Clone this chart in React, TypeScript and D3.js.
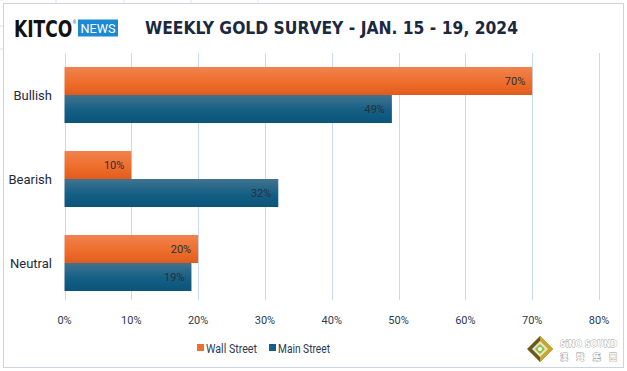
import React, { useEffect, useRef } from 'react';
import * as d3 from 'd3';

const categories = ['Bullish', 'Bearish', 'Neutral'];
const seriesNames = ['Wall Street', 'Main Street'];
const wallStreet = [70, 10, 20];
const mainStreet = [49, 32, 19];
const xTicks = [0, 10, 20, 30, 40, 50, 60, 70, 80];
const title = 'WEEKLY GOLD SURVEY - JAN. 15 - 19, 2024';

const width = 627;
const height = 371;
const plotLeft = 64.5;
const plotRight = 599;
const plotTop = 53;
const plotBottom = 305;
const font = 'Roboto, "Open Sans", sans-serif';

export default function App() {
    const svgRef = useRef<SVGSVGElement>(null);

    useEffect(() => {
        const svg = d3.select(svgRef.current);
        svg.selectAll('*').remove();

        const defs = svg.append('defs');
        const og = defs.append('linearGradient').attr('id', 'gOrange').attr('x1', 0).attr('x2', 0).attr('y1', 0).attr('y2', 1);
        og.append('stop').attr('offset', '0%').attr('stop-color', '#f0834f');
        og.append('stop').attr('offset', '55%').attr('stop-color', '#ee6e2c');
        og.append('stop').attr('offset', '100%').attr('stop-color', '#e15c1c');
        const bg = defs.append('linearGradient').attr('id', 'gBlue').attr('x1', 0).attr('x2', 0).attr('y1', 0).attr('y2', 1);
        bg.append('stop').attr('offset', '0%').attr('stop-color', '#41738f');
        bg.append('stop').attr('offset', '55%').attr('stop-color', '#145f84');
        bg.append('stop').attr('offset', '100%').attr('stop-color', '#0b5479');
        const colors = ['url(#gOrange)', 'url(#gBlue)'];
        const swatch = ['#ee6e2c', '#145f84'];

        svg.append('rect').attr('width', width).attr('height', height).attr('fill', '#fff');
        // faint sheet gridlines outside the chart
        [0, 26, 49].forEach(y => svg.append('line').attr('x1', 0).attr('x2', 3).attr('y1', y).attr('y2', y).attr('stroke', '#dde4ee'));
        [56, 124, 191, 258].forEach(x => svg.append('line').attr('x1', x).attr('x2', x).attr('y1', 0).attr('y2', 3).attr('stroke', '#dde4ee'));
        svg.append('rect').attr('x', 3.5).attr('y', 3.5).attr('width', 620).attr('height', 364)
            .attr('fill', '#fff').attr('stroke', '#c9d5e4');

        const x = d3.scaleLinear().domain([0, 80]).range([plotLeft, plotRight]);
        const y = d3.scaleBand().domain(categories).range([plotTop, plotBottom]).paddingInner(0.333).paddingOuter(0.1665);
        const ySub = d3.scaleBand().domain(seriesNames).range([0, y.bandwidth()]);

        svg.append('g').selectAll('line').data(xTicks).join('line')
            .attr('x1', d => Math.round(x(d)) + 0.5).attr('x2', d => Math.round(x(d)) + 0.5)
            .attr('y1', plotTop).attr('y2', 300)
            .attr('stroke', '#c9daee').attr('stroke-width', 1);

        const rows = categories.map((c, i) => [
            { cat: c, s: seriesNames[0], v: wallStreet[i], k: 0 },
            { cat: c, s: seriesNames[1], v: mainStreet[i], k: 1 },
        ]).flat();

        svg.append('g').selectAll('rect').data(rows).join('rect')
            .attr('x', x(0))
            .attr('y', d => (y(d.cat) as number) + (ySub(d.s) as number))
            .attr('width', d => x(d.v) - x(0))
            .attr('height', ySub.bandwidth())
            .attr('fill', d => colors[d.k]);

        svg.append('g').selectAll('text').data(rows).join('text')
            .attr('x', d => x(d.v) - 7)
            .attr('y', d => (y(d.cat) as number) + (ySub(d.s) as number) + ySub.bandwidth() / 2 + 4)
            .attr('text-anchor', 'end')
            .attr('font-family', font).attr('font-size', 11).attr('fill', '#2b2f36')
            .text(d => `${d.v}%`);

        svg.append('g').selectAll('text').data(categories).join('text')
            .attr('x', 52)
            .attr('y', d => (y(d) as number) + y.bandwidth() / 2 + 4.5)
            .attr('text-anchor', 'end')
            .attr('font-family', font).attr('font-size', 13).attr('fill', '#1e2a3c')
            .text(d => d);

        svg.append('g').selectAll('text').data(xTicks).join('text')
            .attr('x', d => x(d))
            .attr('y', 324)
            .attr('text-anchor', 'middle')
            .attr('font-family', font).attr('font-size', 11).attr('fill', '#2e3a4e')
            .text(d => `${d}%`);

        // legend
        const lg = svg.append('g');
        const legendX = [197, 269];
        const legendLen = [51, 52];
        seriesNames.forEach((s, i) => {
            lg.append('rect').attr('x', legendX[i]).attr('y', 344).attr('width', 7).attr('height', 7).attr('fill', swatch[i]);
            lg.append('text').attr('x', legendX[i] + 9).attr('y', 353)
                .attr('font-family', font).attr('font-size', 13.5).attr('fill', '#2e3a4e')
                .attr('textLength', legendLen[i]).attr('lengthAdjust', 'spacingAndGlyphs')
                .text(s);
        });

        // title
        svg.append('text').attr('x', 145).attr('y', 34)
            .attr('font-family', '"DejaVu Sans Condensed", "DejaVu Sans", sans-serif').attr('font-weight', 'bold')
            .attr('font-size', 17).attr('fill', '#1b2940')
            .attr('textLength', 373).attr('lengthAdjust', 'spacingAndGlyphs')
            .text(title);

        // KITCO NEWS logo
        const kitco = svg.append('text').attr('transform', 'translate(14,37) scale(1,1.22)')
            .attr('font-family', '"DejaVu Sans Condensed", "DejaVu Sans", sans-serif').attr('font-weight', 'bold')
            .attr('font-size', 19).attr('fill', '#111');
        kitco.append('tspan').text('KITCO');
        kitco.append('tspan').attr('dy', -11).attr('font-size', 5).attr('font-weight', 'normal').attr('fill', '#555').text('®');
        svg.append('rect').attr('x', 78).attr('y', 19.5).attr('width', 40).attr('height', 17).attr('fill', '#1b8ad3');
        svg.append('text').attr('x', 98).attr('y', 33)
            .attr('text-anchor', 'middle')
            .attr('font-family', font).attr('font-size', 12).attr('fill', '#fff')
            .attr('textLength', 35).attr('lengthAdjust', 'spacingAndGlyphs')
            .text('NEWS');

        // SiNO SOUND watermark
        const wm = svg.append('g').attr('transform', 'translate(540,349)');
        wm.append('path').attr('d', 'M0,-13 L13,0 L0,13 L-13,0 Z').attr('fill', '#6b5a1a');
        wm.append('path').attr('d', 'M0,-13 L13,0 L0,13 Z').attr('fill', '#c9a62a');
        wm.append('path').attr('d', 'M0,-8 L8,0 L0,8 L-8,0 Z').attr('fill', '#e9e4c9');
        wm.append('path').attr('d', 'M0,-5 L5,0 L0,5 L-5,0 Z').attr('fill', '#8cbf3a');
        wm.append('circle').attr('r', 2).attr('fill', '#fff');
        wm.append('text').attr('x', 20).attr('y', -2)
            .attr('font-family', '"DejaVu Sans", sans-serif').attr('font-weight', 'bold').attr('font-size', 9)
            .attr('fill', '#fff').attr('stroke', '#9a9a9a').attr('stroke-width', 0.8).attr('paint-order', 'stroke')
            .attr('textLength', 57).attr('lengthAdjust', 'spacingAndGlyphs')
            .text('SiNO SOUND');
        wm.append('text').attr('x', 20).attr('y', 11)
            .attr('font-family', '"Noto Sans CJK TC", sans-serif').attr('font-weight', 'bold').attr('font-size', 8)
            .attr('fill', '#fff').attr('stroke', '#a0a0a0').attr('stroke-width', 0.8).attr('paint-order', 'stroke')
            .attr('textLength', 57).attr('lengthAdjust', 'spacing')
            .text('漢聲集團');
    }, []);

    return (
        <svg ref={svgRef} width={width} height={height} style={{ position: 'absolute', left: 0, top: 0, display: 'block' }} />
    );
}
